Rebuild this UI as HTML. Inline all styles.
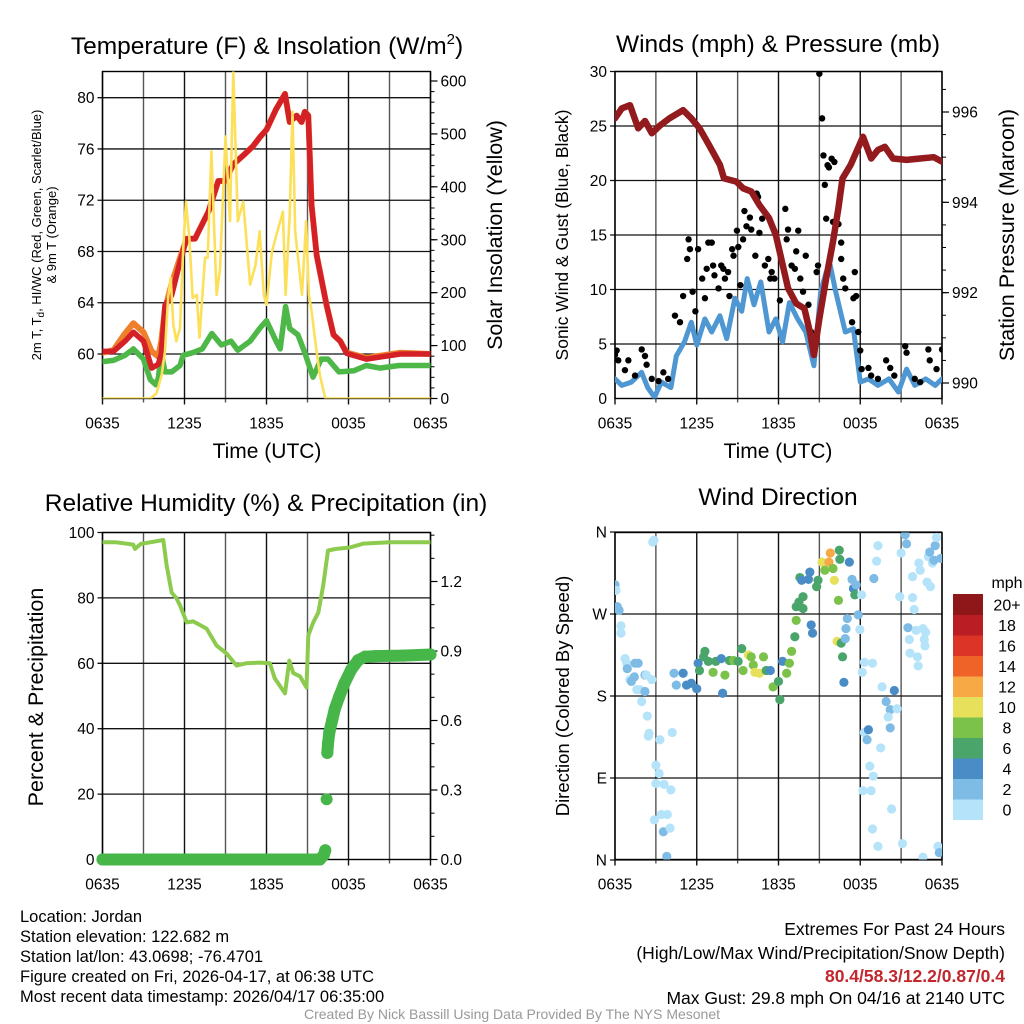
<!DOCTYPE html>
<html><head><meta charset="utf-8"><style>
html,body{margin:0;padding:0;background:#fff;}
svg{display:block;font-family:"Liberation Sans",sans-serif;}
</style></head><body>
<svg id="fig" width="1024" height="1024" viewBox="0 0 1024 1024" xmlns="http://www.w3.org/2000/svg">
<rect width="1024" height="1024" fill="#fff"/>
<g id="layer"></g>
<!-- titles -->
<text x="267" y="54" font-size="24.5" text-anchor="middle">Temperature (F) &amp; Insolation (W/m<tspan font-size="15" dy="-10">2</tspan><tspan dy="10">)</tspan></text>
<text x="778" y="52" font-size="24.5" text-anchor="middle">Winds (mph) &amp; Pressure (mb)</text>
<text x="266" y="511" font-size="24.5" text-anchor="middle">Relative Humidity (%) &amp; Precipitation (in)</text>
<text x="778" y="505" font-size="24.5" text-anchor="middle">Wind Direction</text>
<!-- axis titles -->
<text x="267" y="458" font-size="21" text-anchor="middle">Time (UTC)</text>
<text x="778" y="458" font-size="21" text-anchor="middle">Time (UTC)</text>
<text transform="translate(41,235) rotate(-90)" font-size="13" text-anchor="middle">2m T, T<tspan font-size="10" dy="3">d</tspan><tspan dy="-3">, HI/WC (Red, Green, Scarlet/Blue)</tspan></text>
<text transform="translate(56,235) rotate(-90)" font-size="13" text-anchor="middle">&amp; 9m T (Orange)</text>
<text transform="translate(502,235) rotate(-90)" font-size="21.5" text-anchor="middle">Solar Insolation (Yellow)</text>
<text transform="translate(568,235) rotate(-90)" font-size="17.5" text-anchor="middle">Sonic Wind &amp; Gust (Blue, Black)</text>
<text transform="translate(1014,235) rotate(-90)" font-size="21.5" text-anchor="middle">Station Pressure (Maroon)</text>
<text transform="translate(43,697) rotate(-90)" font-size="21.5" text-anchor="middle">Percent &amp; Precipitation</text>
<text transform="translate(569,696) rotate(-90)" font-size="18.5" text-anchor="middle">Direction (Colored By Speed)</text>
<!-- colorbar label -->
<text x="1007" y="588" font-size="16" text-anchor="middle">mph</text>
<!-- footer -->
<g font-size="16.5">
<text x="20" y="922">Location: Jordan</text>
<text x="20" y="942">Station elevation: 122.682 m</text>
<text x="20" y="962">Station lat/lon: 43.0698; -76.4701</text>
<text x="20" y="982">Figure created on Fri, 2026-04-17, at 06:38 UTC</text>
<text x="20" y="1002">Most recent data timestamp: 2026/04/17 06:35:00</text>
</g>
<g font-size="17.5" text-anchor="end">
<text x="1005" y="935">Extremes For Past 24 Hours</text>
<text x="1005" y="959">(High/Low/Max Wind/Precipitation/Snow Depth)</text>
<text x="1005" y="982" fill="#c1272d" font-weight="bold">80.4/58.3/12.2/0.87/0.4</text>
<text x="1005" y="1004">Max Gust: 29.8 mph On 04/16 at 2140 UTC</text>
</g>
<text x="512" y="1019" font-size="14" fill="#999" text-anchor="middle">Created By Nick Bassill Using Data Provided By The NYS Mesonet</text>
</svg>
<script>
// ===== DATA =====
const xTickLabels = ['0635','1235','1835','0035','0635'];
const xTickHours = [0,6,12,18,24];
// Panel 1: temperature (F) vs hour
const tempHours = [0,0.8,1.65,2.26,3.0,3.6,4.08,4.3,4.57,5.06,5.67,6.16,6.77,7.75,8.47,8.96,9.57,10.3,11.0,11.5,12.0,12.7,13.35,13.7,14.2,14.57,14.8,15.06,15.3,15.67,16.4,16.9,17.4,17.86,19.3,21.8,24];
const tempRed = [60.2,60.2,61.0,61.7,61.0,58.9,59.2,60.0,63.8,64.6,67.2,69.0,69.0,71.1,73.5,73.5,74.8,75.5,76.2,76.9,77.5,79.1,80.3,78.1,78.6,78.1,78.9,78.6,71.6,67.7,63.8,61.5,61.0,60.05,59.6,60.0,60.0];
const tempOrange = [60.1,60.3,61.6,62.4,61.7,60.2,59.8,61.0,63.5,65.5,67.5,69.0,69.0,71.1,73.5,73.5,74.8,75.5,76.2,76.9,77.5,79.1,80.3,78.1,78.6,78.1,78.9,78.6,71.6,67.7,63.8,61.5,61.0,60.1,59.7,60.1,60.0];
const dewHours = [0,0.8,1.65,2.26,3.0,3.5,3.9,4.08,4.3,4.57,5.06,5.67,5.9,6.6,7.3,8.0,8.7,9.4,9.9,10.8,11.5,12.0,12.7,13.0,13.4,13.7,14.3,14.8,15.4,16.0,16.5,17.3,18.4,19.3,20.3,21.7,24];
const dewPoint = [59.4,59.5,59.9,60.4,59.6,58.0,57.6,58.1,60.1,58.6,58.6,59.1,59.9,60.1,60.4,61.6,60.7,61.0,60.3,61.0,62.0,62.6,61.0,60.4,63.7,62.0,61.5,60.1,58.2,59.6,59.6,58.6,58.7,59.1,58.9,59.1,59.1];
const solarHours = [0,3.5,3.96,4.33,4.57,4.8,4.99,5.18,5.4,5.67,5.9,6.1,6.35,6.6,6.9,7.1,7.5,7.7,7.97,8.35,8.6,9.0,9.33,9.57,9.9,10.3,10.8,11.2,11.5,11.8,12.0,12.4,12.8,13.2,13.4,13.7,13.9,14.1,14.6,14.9,15.1,15.3,15.6,15.9,16.3,24];
const solarWm2 = [0,0,10,45,89,190,228,140,108,133,278,372,304,190,196,115,266,266,467,196,245,495,335,618,335,372,215,253,316,196,177,278,316,353,196,347,542,316,196,335,196,165,102,45,0,0];
// Panel 2: winds & pressure
const presHours = [0,0.5,1.1,1.7,2.2,2.7,3.3,4.0,5.0,5.6,6.2,6.9,7.7,8.0,8.9,9.4,10.0,10.6,11.3,11.8,12.2,12.7,13.3,13.9,14.3,14.6,15.0,15.5,16.0,16.4,16.7,17.3,18.2,18.8,19.3,19.8,20.4,21.4,22.4,23.4,24];
const pressureMb = [995.86,996.08,996.15,995.64,995.8,995.53,995.7,995.86,996.04,995.86,995.64,995.27,994.83,994.53,994.46,994.31,994.24,993.94,993.65,993.28,992.76,992.1,991.76,991.65,991.14,990.62,991.43,992.32,993.13,993.87,994.53,994.83,995.45,994.97,995.16,995.23,994.97,994.94,994.97,995.0,994.9];
const windHours = [0,0.5,1.2,1.95,2.4,2.9,3.4,4.1,4.5,5.1,5.6,6.0,6.6,7.1,7.7,8.2,8.8,9.3,9.7,10.2,10.7,11.3,11.8,12.3,12.8,13.4,14.0,14.6,15.1,15.5,15.8,16.2,16.9,17.5,18.0,18.6,19.3,20.1,20.8,21.4,22.0,22.8,23.5,24];
const windMph = [1.8,1.2,1.5,2.4,1.0,0.1,1.5,1.0,3.9,5.2,7.0,4.9,7.3,6.1,7.6,5.5,9.2,8.0,11.0,8.6,10.7,6.1,7.3,5.2,8.8,7.3,6.1,3.0,9.8,11.6,12.2,9.8,6.1,6.4,1.5,1.8,1.2,1.8,0.6,2.7,1.2,1.8,1.2,1.8];
const gustHours = [0,0.12,0.24,0.73,0.98,1.47,1.96,2.2,2.32,2.7,3.2,3.55,3.9,4.4,4.77,5.0,5.3,5.4,5.5,5.7,5.9,6.1,6.4,6.6,6.73,6.85,7.1,7.2,7.3,7.6,7.8,7.95,8.07,8.3,8.4,8.6,8.7,8.95,9.05,9.2,9.4,9.5,9.65,9.9,10.0,10.3,10.4,10.5,10.6,10.8,11.0,11.25,11.4,11.5,11.7,12.1,12.5,12.6,12.7,12.96,13.2,13.3,13.45,13.6,13.8,14.0,14.2,14.4,14.8,14.9,15.0,15.2,15.3,15.4,15.5,15.6,15.7,15.9,16.0,16.1,16.4,16.6,16.6,16.75,16.9,17.4,17.5,17.6,17.7,17.85,18.0,18.1,18.6,18.8,19.3,19.9,20.2,20.5,21.3,21.4,22.0,22.4,23.0,23.1,23.6,24];
const gustMph = [4.0,4.4,3.5,2.6,3.5,2.1,4.5,3.9,3.1,1.8,1.6,2.4,1.8,7.6,7.0,9.4,12.8,14.6,13.7,9.8,8.0,13.7,11.0,9.2,11.9,14.3,14.3,12.2,11.3,10.1,12.2,11.9,11.0,11.6,9.4,13.7,13.1,15.4,13.9,10.4,14.6,17.2,15.8,16.6,15.5,13.1,18.8,18.5,15.2,16.5,12.2,12.8,11.0,11.6,11.0,9.0,17.4,14.6,15.5,12.2,11.9,13.5,15.4,11.0,9.8,13.1,8.6,6.1,11.6,12.2,29.8,25.7,22.3,19.6,16.5,21.4,21.2,22.0,16.2,21.7,16.0,14.3,12.8,11.0,10.1,7.0,9.2,11.6,9.4,6.1,4.4,2.7,2.8,2.1,1.8,3.5,2.8,2.1,4.8,4.2,1.8,1.5,4.5,3.5,2.7,4.5];
// Panel 3: RH & precip
const rhHours = [0,1,2.25,2.38,2.8,3.5,4.45,4.69,5.06,5.4,5.67,6.16,6.64,7.62,8.35,9.08,9.81,10.5,11.5,12.25,12.6,13.35,13.67,13.96,14.45,14.93,15.06,15.42,15.79,16.15,16.5,17.1,18.1,19.1,21,24];
const rhPct = [97,97,96.3,95,96.5,97,97.7,90,81.6,80,77.7,72.5,72.8,70.6,65.4,63,59.3,60,60.2,60,55.4,50.8,60.8,57,56,52.6,68.5,72.5,75.5,83.8,94.5,95,95.4,96.6,97,97];
const precipHours = [0,2,4,6,8,10,12,14,15.9,16.2,16.3,16.4,16.45,16.5,16.6,16.8,17.0,17.3,17.7,18.2,18.7,19.2,20,22,24];
const precipIn = [0,0,0,0,0,0,0,0,0,0.02,0.04,0.26,0.46,0.5,0.55,0.6,0.65,0.7,0.76,0.82,0.86,0.875,0.878,0.88,0.885];
// Panel 4: wind direction (hour, degrees, speed mph)
const dirHours = [0,0.07,0.17,0.3,0.44,0.44,0.74,0.86,0.9,1.1,1.2,1.47,1.7,1.42,1.6,1.83,1.96,2.2,2.2,2.3,2.37,2.7,2.5,2.45,2.77,2.86,3.3,3.0,3.24,3.0,3.6,4.1,4.2,2.89,3.4,3.84,3.55,4.04,3.8,4.33,4.5,5.0,5.25,5.6,6.0,6.1,6.5,6.6,6.2,6.85,7.2,7.4,7.8,7.9,8.07,8.4,8.7,9.04,9.3,9.4,9.8,10.0,10.15,10.27,10.6,10.9,11.1,11.4,11.6,12.0,12.1,12.3,12.6,12.8,12.96,13.2,13.3,13.3,13.8,13.5,13.8,13.57,13.7,14.2,14.3,14.4,14.5,14.8,14.9,15.2,15.4,15.8,15.7,16.0,16.1,16.46,16.5,16.4,16.3,16.6,16.7,16.8,17.2,17.4,17.5,17.6,17.7,17.05,16.95,16.9,17.85,17.97,18.1,18.15,18.3,18.3,18.6,18.5,18.7,18.95,18.2,18.8,18.9,19.3,19.6,19.9,20.2,20.2,20.05,20.5,20.7,20.3,21.1,20.9,21.0,21.3,21.4,21.84,21.84,21.96,21.5,21.6,21.65,22.1,22.2,22.25,22.3,22.4,22.6,22.6,22.7,22.75,22.8,22.9,23.15,23.0,23.1,23.3,23.4,23.5,23.6,23.7,23.8,23.9,19.0,19.2,19.3,18.9,19.5];
const dirDeg = [302,296,278,274,257,249,221,216,210,198,196,216,216,201,187,187,174,185,203,203,158,198,139,136,349,351,132,104,95,84,83,77,140,44,50,50,31,35,4,205,192,205,192,194,188,216,223,229,208,218,206,218,221,183,203,219,219,218,232,208,225,223,214,206,205,223,208,208,190,196,176,218,205,216,229,245,263,278,276,283,289,310,307,308,316,258,249,300,307,327,318,337,327,320,307,340,330,285,240,238,223,195,327,308,298,291,302,265,254,243,269,253,291,206,217,140,143,132,103,92,76,76,34,15,190,174,165,145,157,186,166,56,18,289,337,357,347,311,288,275,255,242,227,252,223,213,326,318,3,254,242,235,250,305,300,333,338,326,329,345,354,15,8,331,309,328,345,216,123];
const dirSpeed = [2,1,3,2,1,0,1,1,2,0,2,2,3,2,0,1,0,2,2,1,0,0,0,0,0,0,0,0,0,0,0,0,0,0,0,0,2,0,2,2,3,4,4,5,4,4,6,7,7,6,8,6,4,4,8,7,8,7,6,8,10,9,8,10,10,8,7,4,8,6,6,4,8,8,8,7,8,6,6,6,6,6,4,4,4,4,4,6,6,10,9,12,12,8,10,6,6,8,10,6,6,4,4,3,4,6,2,3,3,3,3,1,1,1,0,1,4,3,1,0,0,0,0,0,0,2,3,3,0,4,1,0,0,0,0,2,2,0,0,0,3,0,0,0,0,0,0,0,0,0,0,0,0,0,0,0,2,0,3,2,0,0,2,3,3,0,0,0,1,0];
const speedBinLabels = ['0','2','4','6','8','10','12','14','16','18','20+'];
const speedBinColors = ['#b5e3f9','#7ebbe5','#4a8dc6','#4aa56b','#7bc24a','#e6e05a','#f6a945','#ef6329','#dc3426','#bb1d24','#8f1619'];

// ===== DRAWING =====
const NS='http://www.w3.org/2000/svg';
const layer=document.getElementById('layer');
function mk(tag,attrs,parent){const e=document.createElementNS(NS,tag);for(const k in attrs)e.setAttribute(k,attrs[k]);(parent||layer).appendChild(e);return e;}
function lin(d0,d1,r0,r1){return v=>r0+(v-d0)*(r1-r0)/(d1-d0);}

const P1={x0:102.5,x1:430.5,y0:71.5,y1:398.5};
const P2={x0:615,x1:942,y0:71.5,y1:398.5};
const P3={x0:102.5,x1:430.5,y0:532.5,y1:859.5};
const P4={x0:615,x1:942,y0:532.5,y1:859.5};

function clip(id,P){const c=mk('clipPath',{id:id});mk('rect',{x:P.x0,y:P.y0,width:P.x1-P.x0,height:P.y1-P.y0},c);}
clip('c1',P1);clip('c2',P2);clip('c3',P3);clip('c4',P4);

function grid(P,xs,ys,name){
  const g=mk('g',{});
  
  
  for(let i=0;i<=8;i++){const x=P.x0+(P.x1-P.x0)*i/8;mk('line',{x1:x,x2:x,y1:P.y0,y2:P.y1+(i%2==0?6:4),stroke:i%2?'#555':'#111','stroke-width':1.4},g);}
  ys.forEach(y=>mk('line',{x1:P.x0-5,x2:P.x1,y1:y,y2:y,stroke:'#111','stroke-width':1.3},g));
  mk('rect',{x:P.x0,y:P.y0,width:P.x1-P.x0,height:P.y1-P.y0,fill:'none',stroke:'#000','stroke-width':1.4},g);
  xTickHours.forEach((h,i)=>{const t=mk('text',{x:P.x0+(P.x1-P.x0)*h/24,y:P.y1+30,'font-size':15.5,'text-anchor':'middle'},g);t.textContent=xTickLabels[i];});
}
function leftTicks(P,vals,sy,labels,name){
  const g=mk('g',{'font-size':15.5,'text-anchor':'end'});
  
  
  vals.forEach((v,i)=>{const t=mk('text',{x:P.x0-8,y:sy(v)+5.5},g);t.textContent=labels?labels[i]:v;});
}
function rightTicks(P,vals,sy,labels,minorVals,name){
  const g=mk('g',{'font-size':15.5});
  
  
  minorVals.forEach(v=>{const y=sy(v);if(y>=P.y0-0.5&&y<=P.y1+0.5)mk('line',{x1:P.x1,x2:P.x1+4,y1:y,y2:y,stroke:'#000','stroke-width':1},g);});
  vals.forEach((v,i)=>{const y=sy(v);mk('line',{x1:P.x1,x2:P.x1+7,y1:y,y2:y,stroke:'#000','stroke-width':1.2},g);const t=mk('text',{x:P.x1+10,y:y+5.5},g);t.textContent=labels[i];});
}
function path(xs,ys,sx,sy){return xs.map((x,i)=>(i?'L':'M')+sx(x).toFixed(1)+','+sy(ys[i]).toFixed(1)).join('');}
function range(a,b,s){const r=[];for(let v=a;v<=b+1e-9;v+=s)r.push(+v.toFixed(4));return r;}

// Panel 1
{
  const sx=lin(0,24,P1.x0,P1.x1), sy=lin(60,80,354,97.7), sr=lin(0,600,398.5,81);
  grid(P1,null,[80,76,72,68,64,60].map(sy),'temp-grid');
  leftTicks(P1,[60,64,68,72,76,80],sy,null,'temp-y-ticks');
  rightTicks(P1,[0,100,200,300,400,500,600],sr,['0','100','200','300','400','500','600'],range(0,620,20),'insolation-y-ticks');
  const g=mk('g',{'clip-path':'url(#c1)',fill:'none','stroke-linejoin':'round','stroke-linecap':'round'});
  let e;
  e=mk('path',{d:path(dewHours,dewPoint,sx,sy),stroke:'#4db748','stroke-width':5.5},g);
  
  
  e=mk('path',{d:path(tempHours,tempOrange,sx,sy),stroke:'#f07f2c','stroke-width':6},g);
  
  
  e=mk('path',{d:path(tempHours,tempRed,sx,sy),stroke:'#d42027','stroke-width':5.5},g);
  
  
  e=mk('path',{d:path(solarHours,solarWm2,sx,sr),stroke:'#fde05a','stroke-width':2.6},g);
  
  
}
// Panel 2
{
  const sx=lin(0,24,P2.x0,P2.x1), sy=lin(0,30,398.5,71.5), sp=lin(990,996,383,112);
  grid(P2,null,[30,25,20,15,10,5].map(sy),'winds-grid');
  leftTicks(P2,[0,5,10,15,20,25,30],sy,null,'wind-y-ticks');
  rightTicks(P2,[990,992,994,996],sp,['990','992','994','996'],range(989.5,996.5,0.5),'pressure-y-ticks');
  const g=mk('g',{'clip-path':'url(#c2)',fill:'none','stroke-linejoin':'round','stroke-linecap':'round'});
  let e=mk('path',{d:path(windHours,windMph,sx,sy),stroke:'#4f97d3','stroke-width':5},g);
  
  
  const gg=mk('g',{fill:'#000'},g);
  
  
  gustHours.forEach((h,i)=>{const c=mk('circle',{cx:sx(h),cy:sy(gustMph[i]),r:3.2},gg);
    
    });
  e=mk('path',{d:path(presHours,pressureMb,sx,sp),stroke:'#931a1d','stroke-width':6.5},g);
  
  
}
// Panel 3
{
  const sx=lin(0,24,P3.x0,P3.x1), sy=lin(0,100,859.5,532.5), sp=lin(0,1.2,859.5,581.5);
  grid(P3,null,[100,80,60,40,20].map(sy),'humidity-grid');
  leftTicks(P3,[0,20,40,60,80,100],sy,null,'percent-y-ticks');
  rightTicks(P3,[0,0.3,0.6,0.9,1.2],sp,['0.0','0.3','0.6','0.9','1.2'],range(0,1.4,0.1),'precip-y-ticks');
  const g=mk('g',{'clip-path':'url(#c3)',fill:'none','stroke-linejoin':'round','stroke-linecap':'round'});
  let e=mk('path',{d:path(rhHours,rhPct,sx,sy),stroke:'#8dcb4f','stroke-width':4},g);
  
  
  const gp=mk('g',{fill:'#46b649',stroke:'#46b649'});
  
  
  for(let i=1;i<precipHours.length;i++){
    if(Math.abs(precipIn[i]-precipIn[i-1])<0.1)
      mk('line',{x1:sx(precipHours[i-1]),y1:sp(precipIn[i-1]),x2:sx(precipHours[i]),y2:sp(precipIn[i]),'stroke-width':12,'stroke-linecap':'round'},gp);
  }
  precipHours.forEach((h,i)=>{const c=mk('circle',{cx:sx(h),cy:sp(precipIn[i]),r:6,stroke:'none'},gp);
    
    });
}
// Panel 4
{
  const sx=lin(0,24,P4.x0,P4.x1), sy=lin(0,360,860,532);
  grid(P4,null,[360,270,180,90,0].map(sy),'direction-grid');
  leftTicks(P4,[360,270,180,90,0],sy,['N','W','S','E','N'],'direction-y-ticks');
  const g=mk('g',{'clip-path':'url(#c4)'});
  
  
  dirHours.forEach((h,i)=>{
    const b=Math.min(10,Math.floor(dirSpeed[i]/2));
    const c=mk('circle',{cx:sx(h),cy:sy(dirDeg[i]),r:4.6,fill:speedBinColors[b]},g);
    
    
  });
  // colorbar
  const cb=mk('g',{});
  
  
  const top=594,bh=20.5;
  speedBinColors.forEach((col,i)=>{
    const y=top+(10-i)*bh;
    mk('rect',{x:953,y:y,width:30,height:bh+0.5,fill:col},cb);
    const t=mk('text',{x:1007,y:y+bh/2+6,'font-size':16,'text-anchor':'middle'},cb);
    t.textContent=speedBinLabels[i];
  });
}
</script>
</body></html>
